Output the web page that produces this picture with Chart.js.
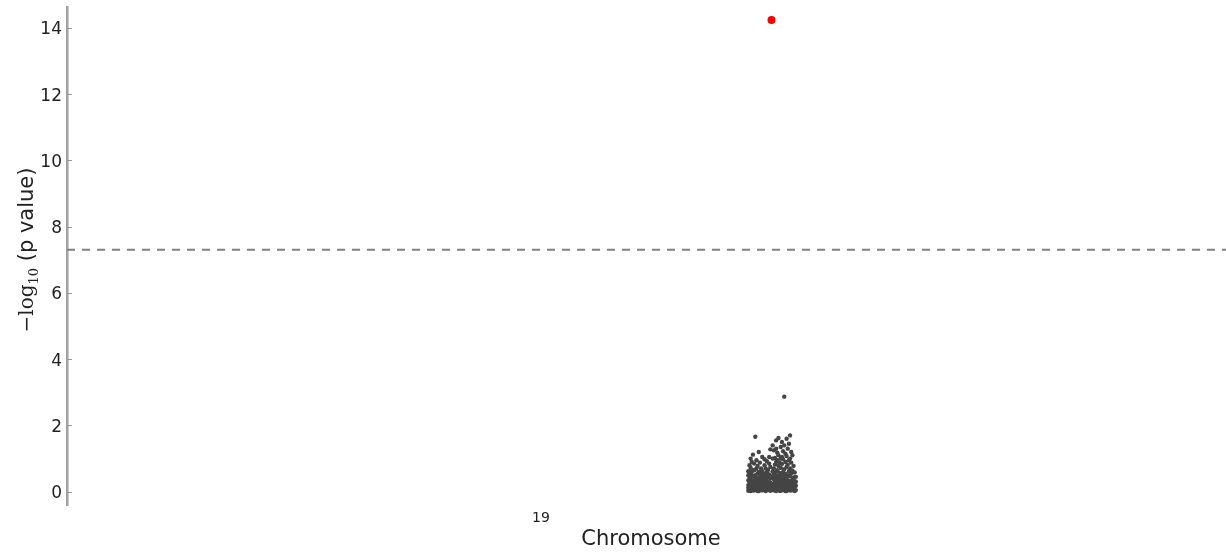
<!DOCTYPE html>
<html>
<head>
<meta charset="utf-8">
<script src="https://cdn.jsdelivr.net/npm/chart.js@4"></script>
<style>
  html, body { margin: 0; padding: 0; background: #fff; overflow: hidden; }
  /* plot frame runs a few px past the right edge of the window */
  #wrap { width: 1235px; height: 552px; position: relative; }
</style>
</head>
<body>
<div id="wrap"><canvas id="manhattan"></canvas></div>
<script>
// chromosome tick (position in plot units) and its label
var chromTicks = [40.9];
var chromLabels = ['19'];
var yTicks = [0, 2, 4, 6, 8, 10, 12, 14];

// genome-wide significance, -log10(5e-8)
var threshold = 7.3;

// lead variant
var leadPos = [60.8];
var leadLogP = [14.24];

// SNP columns: position, then the -log10 p values found there
var snpPos = [
  58.8, 58.9, 59.0, 59.1, 59.2, 59.3, 59.4, 59.5, 59.6, 59.7,
  59.8, 59.9, 60.0, 60.1, 60.2, 60.3, 60.4, 60.5, 60.6, 60.7,
  60.9, 61.0, 61.1, 61.2, 61.3, 61.4, 61.5, 61.6, 61.7, 61.8,
  61.9, 62.0, 62.1, 62.2, 62.3, 62.4, 62.5, 62.6, 62.7, 62.8, 62.9
];
var snpLogP = [
  [0.03, 0.12, 0.2, 0.35, 0.5, 0.62],
  [0.06, 0.1, 0.28, 0.45, 0.58, 0.8],
  [0.02, 0.15, 0.24, 0.4, 0.55, 0.72, 1.0],
  [0.08, 0.18, 0.3, 0.47, 0.6, 0.9],
  [0.04, 0.12, 0.22, 0.48, 0.66, 1.12],
  [0.04, 0.18, 0.26, 0.35, 0.65, 0.85],
  [0.1, 0.17, 0.25, 0.38, 0.5, 1.66],
  [0.06, 0.14, 0.3, 0.42, 0.7, 0.95],
  [0.02, 0.14, 0.2, 0.33, 0.55, 0.78],
  [0.02, 0.09, 0.24, 0.36, 0.6, 1.2],
  [0.09, 0.16, 0.27, 0.45, 0.58, 0.88],
  [0.05, 0.15, 0.32, 0.5, 0.7],
  [0.04, 0.13, 0.22, 0.4, 0.62, 1.05],
  [0.11, 0.19, 0.3, 0.44, 0.55],
  [0.07, 0.19, 0.28, 0.48, 0.8, 0.98],
  [0.02, 0.1, 0.26, 0.38, 0.52, 0.7],
  [0.06, 0.13, 0.33, 0.45, 0.58, 0.92],
  [0.05, 0.15, 0.21, 0.44, 0.66],
  [0.1, 0.18, 0.29, 0.52, 0.85, 1.05],
  [0.03, 0.17, 0.27, 0.4, 0.75, 1.28],
  [0.08, 0.14, 0.24, 0.47, 0.62, 1.0, 1.4],
  [0.04, 0.12, 0.2, 0.38, 0.55, 0.7, 1.25],
  [0.09, 0.16, 0.28, 0.5, 0.82, 1.02],
  [0.02, 0.16, 0.25, 0.42, 0.6, 0.9, 1.3, 1.55],
  [0.1, 0.18, 0.35, 0.48, 0.65, 0.95, 1.18],
  [0.06, 0.14, 0.22, 0.46, 0.78, 1.1, 1.62],
  [0.03, 0.14, 0.31, 0.44, 0.57, 0.88],
  [0.03, 0.12, 0.19, 0.41, 0.72, 1.0, 1.35],
  [0.08, 0.17, 0.27, 0.52, 0.84, 1.05, 1.5],
  [0.05, 0.11, 0.23, 0.36, 0.6, 0.98, 1.22],
  [0.05, 0.15, 0.23, 0.45, 0.68, 1.4, 2.87],
  [0.02, 0.13, 0.3, 0.54, 0.9, 1.15],
  [0.02, 0.1, 0.18, 0.4, 0.75, 1.08, 1.6],
  [0.09, 0.17, 0.26, 0.5, 0.82, 1.3],
  [0.06, 0.14, 0.33, 0.62, 0.95, 1.45],
  [0.04, 0.12, 0.21, 0.47, 0.7, 1.0, 1.7],
  [0.04, 0.16, 0.29, 0.56, 0.88, 1.2],
  [0.1, 0.2, 0.37, 0.64, 1.1],
  [0.07, 0.15, 0.24, 0.43, 0.78],
  [0.02, 0.15, 0.32, 0.58],
  [0.05, 0.18, 0.3, 0.45]
];

var snpPoints = [];
snpPos.forEach(function (x, i) {
  snpLogP[i].forEach(function (y) { snpPoints.push({ x: x, y: y }); });
});
var leadPoints = leadPos.map(function (x, i) { return { x: x, y: leadLogP[i] }; });

var xMin = 0, xMax = 100.8;
var sans = "'DejaVu Sans', sans-serif";
var serif = "'DejaVu Serif', serif";

function noPad(s) { s.paddingTop = 0; s.paddingBottom = 0; s.paddingLeft = 0; s.paddingRight = 0; }

// short tick marks pointing into the plot, matplotlib style
var innerTicks = {
  id: 'innerTicks',
  afterDraw: function (chart) {
    var y = chart.scales.y, ctx = chart.ctx;
    ctx.save();
    ctx.strokeStyle = '#999';
    ctx.lineWidth = 1;
    y.ticks.forEach(function (t) {
      var py = Math.round(y.getPixelForValue(t.value)) + 0.5;
      ctx.beginPath();
      ctx.moveTo(y.right, py);
      ctx.lineTo(y.right + 5, py);
      ctx.stroke();
    });
    ctx.restore();
  }
};

// y title with a math-style "-log10" part and subscript
var yTitle = {
  id: 'yTitle',
  afterDraw: function (chart) {
    var ctx = chart.ctx, area = chart.chartArea;
    var parts = [
      { t: '\u2212log', f: '20px ' + serif, dy: 0 },
      { t: '10', f: '13px ' + serif, dy: 5 },
      { t: ' (p value)', f: '21px ' + sans, dy: 0 }
    ];
    ctx.save();
    var total = 0;
    parts.forEach(function (p) { ctx.font = p.f; p.w = ctx.measureText(p.t).width; total += p.w; });
    ctx.translate(33, (area.top + area.bottom) / 2 - 6);
    ctx.rotate(-Math.PI / 2);
    ctx.fillStyle = '#222';
    ctx.textBaseline = 'alphabetic';
    var x = -total / 2;
    parts.forEach(function (p) {
      ctx.font = p.f;
      ctx.fillText(p.t, x, p.dy);
      x += p.w;
    });
    ctx.restore();
  }
};

new Chart(document.getElementById('manhattan'), {
  type: 'scatter',
  data: {
    datasets: [
      { type: 'line', data: [{ x: xMin, y: threshold }, { x: xMax, y: threshold }],
        borderColor: '#808080', borderWidth: 2, borderDash: [8, 7], pointRadius: 0, order: 3 },
      { data: snpPoints, backgroundColor: '#454545', borderWidth: 0, pointRadius: 2.2, order: 2 },
      { data: leadPoints, backgroundColor: '#ff0000', borderWidth: 0, pointRadius: 4, order: 1 }
    ]
  },
  options: {
    responsive: true,
    maintainAspectRatio: false,
    animation: false,
    layout: { autoPadding: false, padding: { top: 7, right: 0, bottom: 0, left: 0 } },
    plugins: { legend: { display: false }, tooltip: { enabled: false } },
    scales: {
      x: {
        type: 'linear', min: xMin, max: xMax,
        grid: { display: false, drawTicks: false },
        border: { display: false },
        afterBuildTicks: function (s) { s.ticks = chromTicks.map(function (v) { return { value: v }; }); },
        afterFit: function (s) { s.height = 47; noPad(s); },
        ticks: {
          padding: 5, maxRotation: 0, autoSkip: false,
          color: '#222', font: { family: sans, size: 14 },
          callback: function (v) { var i = chromTicks.indexOf(v); return i >= 0 ? chromLabels[i] : ''; }
        },
        title: { display: true, text: 'Chromosome', color: '#222',
                 font: { family: sans, size: 21, lineHeight: 1.2 }, padding: { top: 0, bottom: 0 } }
      },
      y: {
        min: -0.4, max: 14.63,
        grid: { display: false, drawTicks: false },
        border: { display: true, color: '#a0a0a0', width: 2.5 },
        afterBuildTicks: function (s) { s.ticks = yTicks.map(function (v) { return { value: v }; }); },
        afterFit: function (s) { s.width = 67; noPad(s); },
        ticks: { padding: 5, labelOffset: 2, color: '#222', font: { family: sans, size: 17 } },
        title: { display: false }
      }
    }
  },
  plugins: [innerTicks, yTitle]
});
</script>
</body>
</html>
